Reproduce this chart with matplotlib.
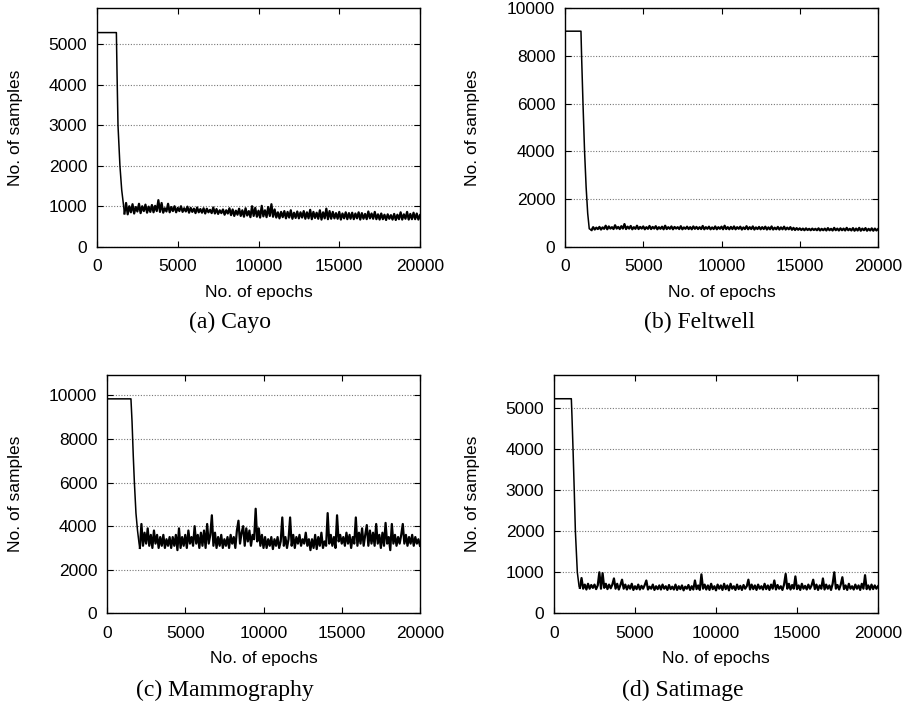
import numpy as np
import matplotlib
matplotlib.use("Agg")
import matplotlib.pyplot as plt

plt.rcParams['font.family'] = ['Liberation Sans', 'DejaVu Sans']

# ---- Cayo ----
cayo_head_x = [0, 1200, 1240, 1300, 1420, 1530, 1650]
cayo_head_y = [5290, 5290, 4300, 3000, 2000, 1400, 1000]
cayo_noise = [
    820, 1080, 800, 1000, 850, 1050, 820, 980, 870, 1060,
    830, 1000, 880, 1040, 840, 990, 860, 1030, 850, 1010,
    880, 1150, 860, 1080, 840, 950, 870, 1060, 850, 980,
    880, 1000, 850, 960, 880, 1000, 860, 950, 870, 990,
    840, 960, 860, 940, 830, 970, 850, 930, 840, 950,
    820, 940, 850, 910, 830, 970, 820, 930, 810, 900,
    830, 920, 790, 900, 820, 950, 780, 920, 760, 890,
    790, 940, 760, 900, 740, 950, 770, 880, 730, 1000,
    760, 960, 740, 890, 720, 1010, 750, 900, 730, 980,
    760, 1050, 740, 920, 720, 850, 700, 860, 730, 880,
    700, 860, 720, 900, 690, 840, 710, 870, 700, 850,
    720, 880, 690, 850, 700, 910, 680, 860, 710, 840,
    690, 900, 670, 850, 700, 940, 680, 880, 690, 860,
    700, 830, 690, 860, 670, 820, 700, 850, 680, 830,
    690, 840, 680, 820, 700, 850, 670, 830, 690, 810,
    680, 870, 700, 820, 690, 860, 680, 800, 670, 820,
    680, 790, 660, 800, 690, 780, 670, 810, 660, 790,
    680, 850, 670, 800, 690, 860, 670, 810, 680, 840,
    680, 820, 670, 780,
]
cayo_noise_start = 1700

# ---- Feltwell ----
felt_head_x = [0, 1020, 1060, 1150, 1250, 1350, 1450, 1550]
felt_head_y = [9040, 9040, 8000, 6000, 4000, 2500, 1400, 750]
felt_noise = [
    700, 820, 720, 800, 740, 830, 720, 810, 750, 880,
    730, 850, 760, 820, 740, 900, 760, 830, 740, 860,
    760, 950, 740, 840, 760, 870, 730, 820, 750, 880,
    740, 830, 760, 850, 730, 820, 750, 870, 740, 830,
    760, 860, 730, 820, 750, 840, 730, 880, 740, 820,
    750, 850, 730, 830, 760, 820, 740, 860, 730, 810,
    750, 840, 740, 820, 730, 850, 750, 830, 740, 820,
    740, 870, 730, 820, 750, 840, 730, 810, 740, 850,
    730, 820, 750, 840, 730, 880, 740, 820, 730, 830,
    740, 850, 730, 820, 750, 840, 720, 810, 740, 860,
    730, 820, 740, 850, 720, 810, 740, 830, 730, 820,
    740, 840, 720, 810, 730, 850, 720, 800, 730, 830,
    720, 810, 730, 840, 720, 800, 730, 820, 710, 790,
    700, 780, 710, 770, 700, 760, 690, 770, 700, 750,
    690, 760, 700, 750, 690, 770, 680, 750, 690, 760,
    680, 780, 690, 750, 680, 790, 690, 760, 680, 770,
    690, 760, 680, 790, 690, 750, 680, 780, 670, 760,
    680, 790, 670, 760, 690, 780, 670, 750, 680, 770,
    670, 760, 680, 740,
]
felt_noise_start = 1700

# ---- Mammography ----
mammo_head_x = [0, 1530, 1600, 1680, 1750, 1850, 1950, 2050]
mammo_head_y = [9845, 9845, 8800, 7200, 6000, 4600, 3800, 3200]
mammo_noise = [
    3000, 4100, 3100, 3700, 3200, 3900, 3100, 3600, 3000, 3800,
    3200, 3600, 3000, 3500, 3100, 3600, 3000, 3400, 3100, 3500,
    3000, 3500, 3100, 3600, 2900, 3900, 3000, 3500, 3100, 3600,
    3000, 3800, 3200, 3500, 3100, 4000, 3200, 3600, 3000, 3700,
    3100, 3800, 3000, 4100, 3200, 3600, 4500, 3100, 3700, 3000,
    3500, 3100, 3600, 3000, 3400, 3100, 3500, 3000, 3600, 3200,
    3500, 3000, 3800, 4250, 3200, 3700, 4000, 3100, 3900, 3300,
    3800, 3100, 3600, 3400, 4800, 3300, 3900, 3100, 3600, 3000,
    3500, 3000, 3400, 3100, 3500, 2950, 3400, 3100, 3500, 3000,
    3300, 4400, 3100, 3500, 3000, 3400, 4400, 3100, 3600, 3000,
    3500, 3200, 3600, 3100, 3400, 3200, 3700, 3100, 3400, 2900,
    3400, 3000, 3600, 2950, 3500, 3100, 3700, 3000, 3300, 3100,
    4600, 3200, 3600, 3100, 3500, 3000, 4500, 3300, 3600, 3200,
    3500, 3100, 3700, 3200, 3600, 3000, 3500, 3200, 4400, 3100,
    3700, 3200, 3900, 3100, 3600, 4050, 3100, 3800, 3200, 3700,
    3100, 4100, 3200, 3600, 3000, 3700, 3100, 4150, 3200, 3500,
    2900, 4100, 3200, 3600, 3100, 3500, 3200, 3600, 4100, 3200,
    3600, 3100, 3500, 3200, 3600, 3100, 3500, 3200, 3400, 3100,
]
mammo_noise_start = 2100

# ---- Satimage ----
sat_head_x = [0, 1070, 1110, 1175, 1250, 1320, 1440, 1550]
sat_head_y = [5234, 5234, 4800, 4000, 3000, 2000, 1000, 650]
sat_noise = [
    620, 860, 600, 700, 580, 720, 600, 690, 620, 700,
    590, 680, 1000, 600, 980, 620, 720, 590, 700, 610,
    700, 850, 600, 720, 580, 690, 820, 600, 700, 580,
    680, 600, 720, 570, 660, 590, 700, 580, 670, 600,
    690, 800, 580, 650, 600, 700, 570, 660, 590, 680,
    580, 700, 600, 660, 570, 690, 590, 650, 580, 700,
    570, 660, 590, 680, 560, 650, 600, 690, 570, 660,
    580, 800, 590, 680, 570, 950, 600, 700, 580, 680,
    570, 720, 590, 660, 560, 700, 600, 680, 570, 720,
    590, 680, 560, 720, 600, 660, 570, 700, 590, 670,
    570, 690, 600, 660, 820, 580, 700, 590, 680, 570,
    700, 600, 660, 580, 720, 590, 680, 570, 700, 600,
    800, 580, 690, 600, 660, 570, 700, 960, 600, 720,
    580, 690, 600, 900, 590, 680, 570, 720, 600, 670,
    580, 700, 600, 680, 820, 590, 700, 570, 680, 600,
    850, 580, 700, 600, 680, 570, 720, 1000, 600, 690,
    580, 700, 880, 590, 680, 570, 720, 600, 660, 580,
    700, 600, 680, 570, 720, 600, 930, 590, 680, 580,
    700, 590, 680, 600, 660,
]
sat_noise_start = 1600

panels = [
    ("(a) Cayo", cayo_head_x, cayo_head_y, cayo_noise_start, cayo_noise,
     [97, 420, 8.3, 246.7], 5890, [0, 1000, 2000, 3000, 4000, 5000], 23, 230, 322),
    ("(b) Feltwell", felt_head_x, felt_head_y, felt_noise_start, felt_noise,
     [565, 878, 8.3, 246.7], 10000, [0, 2000, 4000, 6000, 8000, 10000], 480, 699, 322),
    ("(c) Mammography", mammo_head_x, mammo_head_y, mammo_noise_start, mammo_noise,
     [107, 420, 375, 613.3], 10940, [0, 2000, 4000, 6000, 8000, 10000], 23, 225, 690),
    ("(d) Satimage", sat_head_x, sat_head_y, sat_noise_start, sat_noise,
     [554, 878, 375, 613.3], 5813, [0, 1000, 2000, 3000, 4000, 5000], 480, 683, 690),
]

W, H = 910, 708
fig = plt.figure(figsize=(W / 100, H / 100), dpi=100)

for caption, hx, hy, nstart, nvals, box, ymax, yticks, ylab_x, cap_x, cap_y in panels:
    left, right, top, bottom = box
    ax = fig.add_axes([left / W, 1 - bottom / H, (right - left) / W, (bottom - top) / H])
    nx = np.linspace(nstart, 20000, len(nvals))
    # flat start + steep drop drawn thin, noisy tail drawn heavier
    ax.plot(list(hx) + [nx[0]], list(hy) + [nvals[0]], color='black', linewidth=1.1)
    ax.plot(nx, nvals, color='black', linewidth=1.6)

    ax.set_xlim(0, 20000)
    ax.set_ylim(0, ymax)
    ax.set_xticks([0, 5000, 10000, 15000, 20000])
    ax.set_yticks(yticks)
    ax.yaxis.grid(True, linestyle=(0, (1, 1.5)), color='#777777', linewidth=0.8)
    ax.tick_params(direction='in', length=4, width=0.8, top=True, right=True,
                   labelsize=12.5, color='black')
    ax.tick_params(axis='x', pad=9)
    ax.tick_params(axis='y', pad=7)
    for s in ax.spines.values():
        s.set_linewidth(1.0)

    ax.set_xlabel('No. of epochs', fontsize=12.5)
    ax.set_ylabel('No. of samples', fontsize=12.5)
    ax.xaxis.set_label_coords(0.5, -38 / (bottom - top))
    ax.yaxis.set_label_coords((ylab_x - left) / (right - left), 0.5)

    fig.text(cap_x / W, 1 - cap_y / H, caption, ha='center', va='center',
             fontsize=17, family=['Liberation Serif', 'DejaVu Serif'])

fig.savefig('out.png', dpi=100)
